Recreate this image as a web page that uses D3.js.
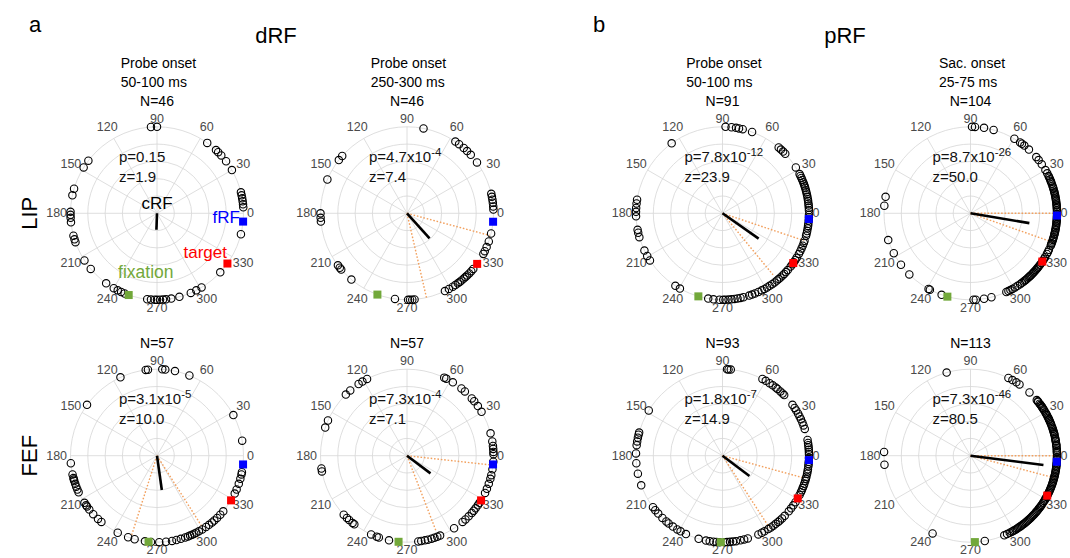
<!DOCTYPE html>
<html><head><meta charset="utf-8">
<script src="https://cdn.jsdelivr.net/npm/d3@7"></script>
<style>
body{margin:0;background:#fff}
svg{display:block}
text{font-family:"Liberation Sans",Arial,Helvetica,sans-serif}
</style>
</head><body>
<svg id="c" width="1070" height="558"></svg>
<script>
// ---------- DATA ----------
const panelLetters = ["a", "b"];
const groupLabels = ["dRF", "pRF"];
const rowLabels = ["LIP", "FEF"];
const columnTitles = [["Probe onset", "50-100 ms"], ["Probe onset", "250-300 ms"], ["Probe onset", "50-100 ms"], ["Sac. onset", "25-75 ms"]];
const angleTicks = [0, 30, 60, 90, 120, 150, 180, 210, 240, 270, 300, 330];
const gridRings = [0.2, 0.4, 0.6, 0.8, 1.0];
const nCells = [46, 46, 91, 104, 57, 57, 93, 113];
const pMantissa = ["0.15", "4.7", "7.8", "8.7", "3.1", "7.3", "1.8", "7.3"];
const pExponent = ["", "-4", "-12", "-26", "-5", "-4", "-7", "-46"];
const zValues = ["1.9", "7.4", "23.9", "50.0", "10.0", "7.1", "14.9", "80.5"];
const meanAngle = [268, 312, 325, 350.5, 278, 323, 323, 352.7];
const meanLength = [0.19, 0.39, 0.51, 0.69, 0.40, 0.34, 0.39, 0.85];
const ciAngleA = [null, 345, 341.5, 0, 252.3, 353.7, 344.7, 0];
const ciAngleB = [null, 283, 309.4, 340.6, 302.4, 291.1, 303.1, 345.2];
const ciLengthA = [0, 0.99, 0.99, 1.0, 0.97, 0.98, 0.97, 1.0];
const ciLengthB = [0, 1.0, 0.92, 1.0, 0.97, 0.94, 0.99, 1.0];
const fRFAngle = [354.5, 354.4, 356.2, 358.5, 354.2, 354.2, 357.1, 356];
const targetAngle = [324.5, 324.2, 324.9, 326.1, 328.9, 328.9, 330.4, 332.5];
const fixationAngle = [250.9, 250, 253.8, 254.5, 264.4, 264.4, 268.9, 272.9];

const cellAngles0 = [94, 90, 54.5, 47, 45, 42, 37, 30, 14, 12, 10, 8, 6, 4, 346, 317, 301, 297, 293, 285,
  263.5, 266, 268.5, 270, 272, 274, 276, 279.5, 234, 240, 243, 245.5, 248, 213, 220, 179, 181, 183, 186,
  195, 197.5, 199.5, 163.5, 168, 142.5, 148];
const cellAngles1 = [79, 56, 53, 49, 46, 42.5, 36, 13, 11, 9, 7, 4.5, 2.5, 346.5, 341, 337, 334, 332,
  320, 318, 316, 314, 312.5, 311, 309, 307.5, 306, 304, 302, 299, 296, 270.7, 272, 273.5, 275, 262, 230,
  217, 219, 220.5, 180, 183, 185.5, 157, 142, 138.5];
const cellAngles2 = [88, 84, 81, 79, 76.5, 70, 126, 49.5, 47.5, 45.5, 43.5, 32,
  27, 25.6, 24.1, 22.7, 21, 19.6, 18.2, 17, 15.4, 14.1, 12.6, 11, 9.4, 8.1, 6.5, 5.2, 3.6, 2,
  359, 357.4, 355.2, 353, 351.6, 350, 348.2, 346.5, 345, 341.5, 340, 338, 336, 334,
  332, 329, 327.2, 325.5, 324, 322, 319, 317.2, 315.5, 314, 312.1, 310.5, 309, 307, 305, 303, 301, 299, 297,
  294.5, 292, 290, 288, 284, 282, 280, 278, 276, 274, 272, 270.5, 268,
  264, 260.5, 237, 240.5, 205.5, 209.5, 213, 191, 193, 196, 171, 173.5, 176.5, 179, 182];
const cellAngles3 = [89, 87, 81, 74.5, 59.5, 55, 53.5, 51.5, 47.5, 40.5, 38, 34.5, 30, 27.5,
  25.5, 24.4, 23.1, 22, 21.2, 20, 18.6, 17.4, 16.5, 15.1, 14, 13.2, 12, 11.1, 9.9, 9, 8.2, 7, 5.9, 5.1, 4, 3.2, 2, 0.9,
  359.5, 358.4, 357.6, 356.5, 355.4, 354.6, 353.5, 352.4, 351.6, 350.5, 349.4, 348.6, 347.5, 346.4, 345.6, 344, 343, 342.1, 341, 339.9, 339, 338, 335, 333.5, 332,
  329.5, 328, 326.5, 325, 323.5, 322, 321, 320.1, 319, 317.9, 317, 316.1, 315, 313.9, 313, 312.1, 311, 309.9, 309, 308, 306.5, 305, 303, 301,
  299, 297.5, 296, 294.5, 284, 279, 273.5, 272, 250.5, 242, 241, 225, 216.5, 207.5, 198, 175, 169];
const cellAngles4 = [97.5, 96, 86.5, 84.5, 78, 68, 115, 144, 28, 10,
  349, 347.5, 344.5, 341, 337, 334,
  320, 317, 314, 311.5, 309.5, 307, 304.5, 301.5, 299,
  297, 295.5, 294, 292.5, 291, 289, 286, 283, 280,
  276, 271.5, 266, 262, 255, 250.5, 243,
  230, 227, 222.5, 218.5, 216, 215, 213,
  185, 192.5, 195, 196, 197, 199, 201, 203, 205];
const cellAngles5 = [117.5, 121, 124, 131, 135, 156, 161, 188.5, 190.5, 223, 226, 228, 231, 232.5, 245.5, 249.5, 251, 258,
  277.5, 279.5, 282, 284, 286.5, 288.5, 290.5, 292.5, 303, 310, 312.5, 315.5, 318.5, 320.5, 322.5, 325, 327,
  334.5, 337.5, 341, 344.5, 347, 351, 356, 15, 9.5, 6.5, 4.5, 2.5, 1,
  30.5, 35, 39, 41.5, 48, 51, 58, 63, 64.5];
const cellAngles6 = [87, 86, 84.5,
  62.5, 60, 57, 54.5, 52, 50.5, 48, 46, 44.5,
  36, 33.5, 31.5, 29, 27, 25, 22.5, 20.5, 18,
  10.5, 8.5, 7, 5.5, 4, 2.5, 1,
  358.5, 356, 354.5, 353, 351, 349.5, 348, 346, 344.5, 343, 341, 339.5, 338, 336.5, 335, 333,
  327.5, 325, 322.5, 320,
  316, 313.5, 311.5, 310, 308, 306, 304, 302, 299, 297, 294.5,
  287, 284.5, 282, 279, 277, 275, 273, 271.5, 268, 266, 264, 261.5, 259, 254,
  245, 241, 238.5, 235, 231.5, 229.5, 226, 222, 219, 216.5,
  200, 192, 185, 178.5, 173, 170.5, 168, 166, 164.5, 148.5];
const cellAngles7 = [106, 64, 61, 58, 55.5, 47,
  40, 39, 38.5, 37, 36, 35, 34, 33.5, 32.5, 31.5, 30, 29, 28, 27, 26, 25, 24.5, 23.5, 22.5, 21.5,
  20.5, 19, 18, 17, 16, 15, 14.5, 13.5, 12, 11, 10, 9.5, 8, 7, 6.5, 5, 4, 3, 2.5, 1.5,
  359, 358, 357, 355.5, 354.5, 353.5, 352.5, 351.5, 350.5, 349.5, 348.5, 347.5, 346.5, 345.5, 344.5, 343.5,
  342.5, 341.5, 340.5, 339.5, 338.5, 337.5, 336.5, 335.5, 334.5, 333.5, 332.5, 331.5, 330.5, 329.5, 328.5, 327,
  325.5, 324.5, 323.5, 322.5, 321.5, 320.5, 319.5, 318.5, 317.5, 316.5, 315.5, 314.5, 313.5, 312.5,
  311.5, 310.5, 309.5, 308.5, 307.5, 306.5, 305.5, 304.5, 303.5, 302.5, 301.5, 300.5, 299.5, 298.5, 297, 295, 293,
  279.5, 244, 177.5, 186];
const cellAngles = [cellAngles0, cellAngles1, cellAngles2, cellAngles3, cellAngles4, cellAngles5, cellAngles6, cellAngles7];

// ---------- LAYOUT ----------
const colCenters = [157, 407, 722.5, 970.5];
const rowCenters = [213.3, 455.7];
const R = 86.5;
const GREEN = "#72a83a";

const svg = d3.select("#c");
const rScale = d3.scaleLinear().domain([0, 1]).range([0, R]);
const aScale = d3.scaleLinear().domain([0, 360]).range([Math.PI / 2, Math.PI / 2 - 2 * Math.PI]);
const pt = (deg, r) => d3.pointRadial(aScale(deg), rScale(r));

// headers
svg.append("text").attr("x", 29).attr("y", 32).attr("font-size", 22).text(panelLetters[0]);
svg.append("text").attr("x", 593).attr("y", 32).attr("font-size", 22).text(panelLetters[1]);
svg.append("text").attr("x", 276).attr("y", 43).attr("font-size", 22).attr("text-anchor", "middle").text(groupLabels[0]);
svg.append("text").attr("x", 845).attr("y", 43).attr("font-size", 22).attr("text-anchor", "middle").text(groupLabels[1]);
rowLabels.forEach((t, i) => {
  svg.append("text").attr("transform", `translate(37,${rowCenters[i]}) rotate(-90)`)
    .attr("font-size", 22).attr("text-anchor", "middle").text(t);
});

// column titles (left-aligned block, centred over panel)
columnTitles.forEach((lines, c) => {
  const g = svg.append("g");
  const ts = lines.map((l, k) => g.append("text").attr("y", 68 + k * 18.5).attr("font-size", 14).text(l));
  const w = d3.max(ts, t => t.node().getComputedTextLength());
  ts.forEach(t => t.attr("x", colCenters[c] - w / 2 + 1.5));
});

for (let i = 0; i < 8; i++) {
  const row = Math.floor(i / 4), col = i % 4;
  const g = svg.append("g").attr("transform", `translate(${colCenters[col]},${rowCenters[row]})`);

  g.selectAll("circle.ring").data(gridRings).join("circle")
    .attr("r", d => rScale(d)).attr("fill", "none").attr("stroke", "#d6d6d6").attr("stroke-width", 0.8);
  g.selectAll("line.spoke").data(angleTicks).join("line")
    .attr("x1", 0).attr("y1", 0)
    .attr("x2", d => pt(d, 1)[0]).attr("y2", d => pt(d, 1)[1])
    .attr("stroke", "#d6d6d6").attr("stroke-width", 0.8);

  g.selectAll("text.tick").data(angleTicks).join("text")
    .attr("font-size", 12.5).attr("fill", "#4a4a4a").attr("dominant-baseline", "central")
    .attr("text-anchor", d => d === 0 ? "start" : d === 180 ? "end" : "middle")
    .attr("x", d => pt(d, d % 180 === 0 ? 1.04 : (d === 90 || d === 270 ? 1.09 : 1.15))[0])
    .attr("y", d => pt(d, d % 180 === 0 ? 1.04 : (d === 90 || d === 270 ? 1.09 : 1.15))[1])
    .text(d => d);

  g.append("text").attr("x", 0).attr("y", -107.5).attr("font-size", 14).attr("text-anchor", "middle")
    .text("N=" + nCells[i]);

  const pt1 = g.append("text").attr("x", -38).attr("y", -51.5).attr("font-size", 15).attr("fill", "#111");
  if (pExponent[i]) {
    pt1.append("tspan").text("p=" + pMantissa[i] + "x10");
    pt1.append("tspan").attr("dy", -6).attr("font-size", 11.5).text(pExponent[i]);
  } else {
    pt1.text("p=" + pMantissa[i]);
  }
  g.append("text").attr("x", -38).attr("y", -31.5).attr("font-size", 15).attr("fill", "#111").text("z=" + zValues[i]);

  if (ciAngleA[i] !== null) {
    [[ciAngleA[i], ciLengthA[i]], [ciAngleB[i], ciLengthB[i]]].forEach(([a, l]) => {
      const p = pt(a, l);
      g.append("line").attr("x1", 0).attr("y1", 0).attr("x2", p[0]).attr("y2", p[1])
        .attr("stroke", "#f2a05e").attr("stroke-width", 1.4).attr("stroke-dasharray", "1.6,1.8");
    });
  }
  const mp = pt(meanAngle[i], meanLength[i]);
  g.append("line").attr("x1", 0).attr("y1", 0).attr("x2", mp[0]).attr("y2", mp[1])
    .attr("stroke", "#000").attr("stroke-width", 2.6);

  if (i === 0) {
    g.append("text").attr("x", 0).attr("y", -4).attr("font-size", 17).attr("text-anchor", "middle").text("cRF");
    g.append("text").attr("x", 83).attr("y", 9.5).attr("font-size", 17).attr("text-anchor", "end").attr("fill", "#0000ff").text("fRF");
    g.append("text").attr("x", 70).attr("y", 45).attr("font-size", 17).attr("text-anchor", "end").attr("fill", "#ff0000").text("target");
    g.append("text").attr("x", 16.5).attr("y", 64.5).attr("font-size", 17.5).attr("text-anchor", "end").attr("fill", GREEN).text("fixation");
  }

  g.selectAll("circle.cell").data(cellAngles[i]).join("circle")
    .attr("cx", d => pt(d, 1)[0]).attr("cy", d => pt(d, 1)[1])
    .attr("r", 3.7).attr("fill", "none").attr("stroke", "#000").attr("stroke-width", 1.1);

  [[fRFAngle[i], "#0000ff"], [targetAngle[i], "#ff0000"], [fixationAngle[i], GREEN]].forEach(([a, c]) => {
    const p = pt(a, 1);
    g.append("rect").attr("x", p[0] - 4).attr("y", p[1] - 4).attr("width", 8).attr("height", 8).attr("fill", c);
  });
}
</script>
</body></html>
